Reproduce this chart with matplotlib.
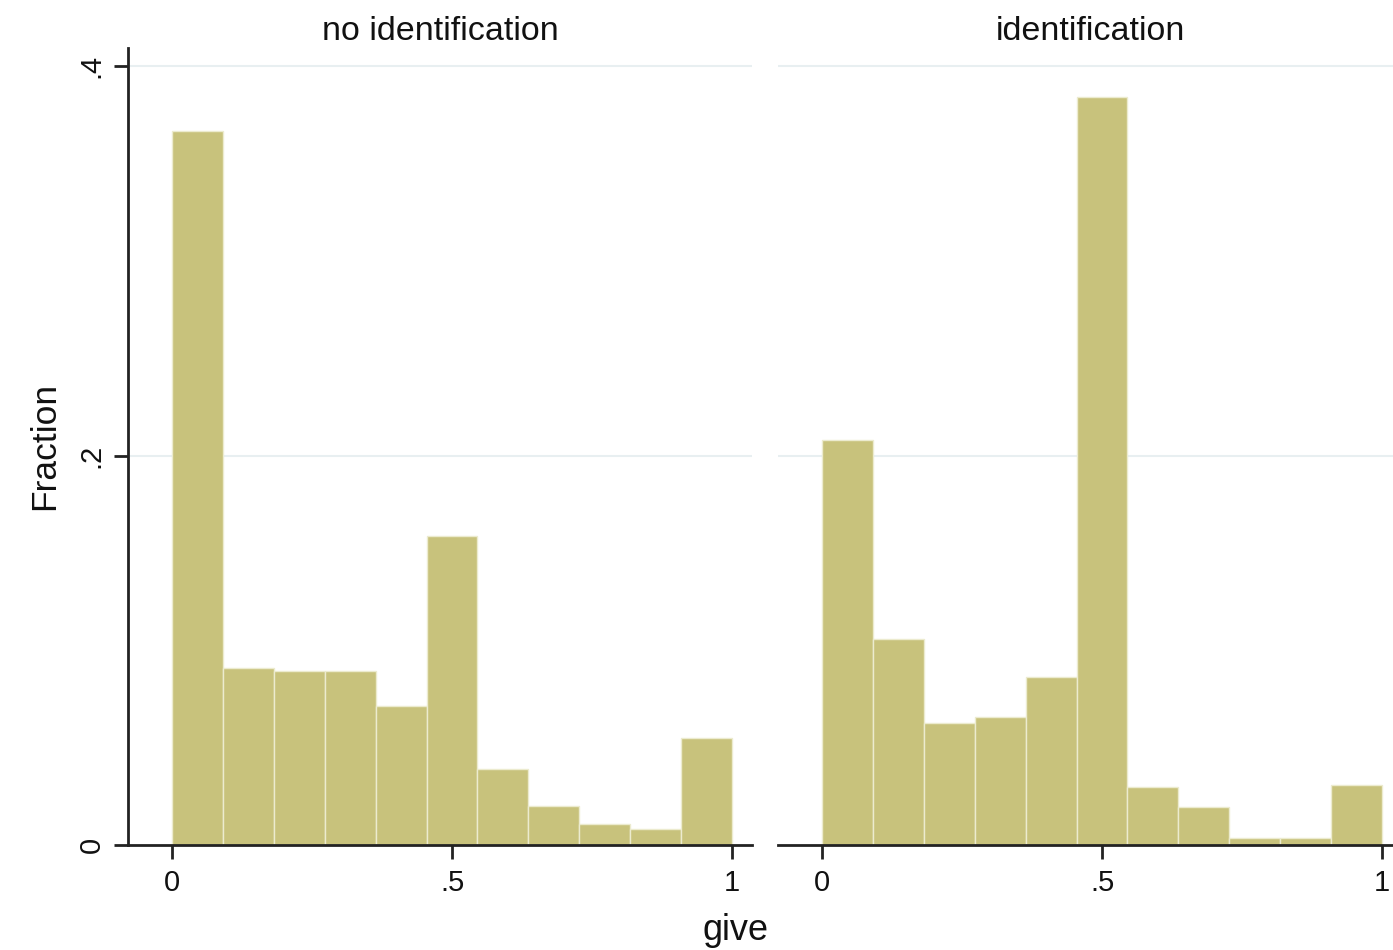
import matplotlib
matplotlib.use("Agg")
import matplotlib.pyplot as plt
import numpy as np

plt.rcParams['font.family'] = ['Liberation Sans', 'DejaVu Sans']

# bin edges: 11 equal bins on [0, 1]
n_bins = 11
bin_left = [i / n_bins for i in range(n_bins)]
bin_width = 1 / n_bins

panel_titles = ["no identification", "identification"]
frac_no_id = [0.3666, 0.0909, 0.0893, 0.0893, 0.0714, 0.1587, 0.0390, 0.0200, 0.0108, 0.0082, 0.0550]
frac_id = [0.2080, 0.1058, 0.0626, 0.0657, 0.0863, 0.3840, 0.0298, 0.0195, 0.0035, 0.0035, 0.0310]
series = [frac_no_id, frac_id]

x_ticks = [0, 0.5, 1]
x_ticklabels = ["0", ".5", "1"]
y_ticks = [0, 0.2, 0.4]
y_ticklabels = ["0", ".2", ".4"]

bar_color = "#c8c27c"
grid_color = "#e8eff1"

W, H = 1393, 950
fig = plt.figure(figsize=(W / 100, H / 100), dpi=100)

xlim = (-0.0786, 1.0357)
ylim = (0, 0.4093)
lefts_px = [128, 778]
width_px = 624
bottom_px = 845
top_px = 48

for i, (vals, title) in enumerate(zip(series, panel_titles)):
    ax = fig.add_axes([lefts_px[i] / W, (H - bottom_px) / H,
                       width_px / W, (bottom_px - top_px) / H])
    ax.bar(bin_left, vals, width=bin_width, align='edge', color=bar_color,
           edgecolor='#ecebcf', linewidth=1.0, zorder=2)
    ax.set_xlim(*xlim)
    ax.set_ylim(*ylim)
    for yv in y_ticks[1:]:
        ax.axhline(yv, color=grid_color, linewidth=1.5, zorder=1)
    for s in ['top', 'right']:
        ax.spines[s].set_visible(False)
    ax.spines['bottom'].set_linewidth(2)
    ax.spines['bottom'].set_color('#222222')
    ax.set_xticks(x_ticks)
    ax.set_xticklabels(x_ticklabels)
    ax.tick_params(axis='x', length=10, width=2, color='#222222', labelsize=21,
                   pad=7, labelcolor='#111111')
    if i == 0:
        ax.spines['left'].set_linewidth(2)
        ax.spines['left'].set_color('#222222')
        ax.set_yticks(y_ticks)
        ax.set_yticklabels(y_ticklabels, rotation=90, va='center')
        ax.tick_params(axis='y', length=10, width=2, color='#222222', labelsize=21,
                       pad=6, labelcolor='#111111')
        ax.set_ylabel("Fraction", fontsize=25.5, labelpad=12, color='#111111')
    else:
        ax.spines['left'].set_visible(False)
        ax.set_yticks([])
    ax.set_title(title, fontsize=24.5, pad=6, color='#111111')
    ax.set_facecolor('white')

fig.text(736 / W, 1 - 930 / H, "give", fontsize=26, ha='center', va='center',
         color='#111111')

fig.savefig("out.png", dpi=100)
